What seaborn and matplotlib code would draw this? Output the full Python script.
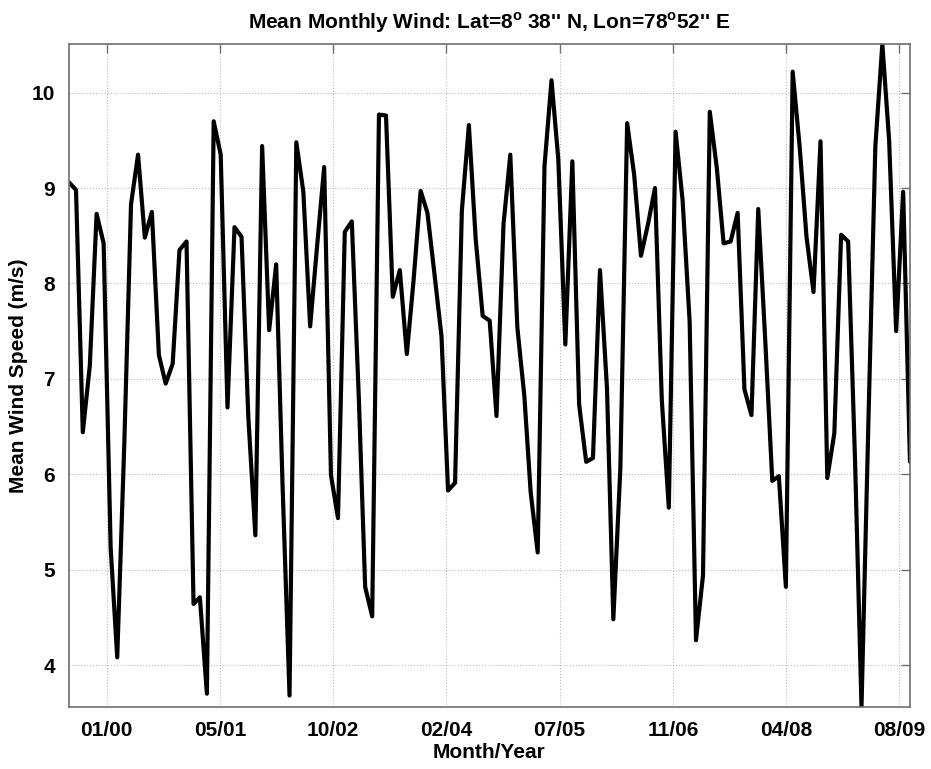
import pandas as pd
import matplotlib
matplotlib.use("Agg")
import matplotlib.pyplot as plt
import matplotlib.dates as mdates
import seaborn as sns

# monthly mean wind speed (m/s), Aug 1999 .. Oct 2009
months = pd.date_range("1999-08-01", periods=123, freq="MS")
wind = [
    9.06, 8.98, 6.44, 7.14, 8.73, 8.42, 5.23, 4.08, 6.30, 8.83,
    9.35, 8.48, 8.75, 7.25, 6.95, 7.16, 8.35, 8.44, 4.64, 4.71,
    3.70, 9.70, 9.35, 6.70, 8.59, 8.49, 6.60, 5.36, 9.44, 7.51,
    8.20, 5.90, 3.68, 9.48, 8.96, 7.55, 8.40, 9.22, 5.99, 5.54,
    8.54, 8.65,
    6.80, 4.82, 4.51, 9.77, 9.76, 7.86, 8.14, 7.26, 8.04, 8.97,
    8.74, 8.10, 7.45, 5.83, 5.91, 8.76, 9.66, 8.47, 7.66, 7.61,
    6.61, 8.62, 9.35, 7.54, 6.82, 5.81, 5.18, 9.23, 10.13, 9.30,
    7.36, 9.28, 6.73, 6.13, 6.17, 8.14, 6.90, 4.48, 6.06, 9.68,
    9.14, 8.29, 8.62, 9.00, 6.78, 5.65, 9.59, 8.87, 7.60, 4.26,
    4.94, 9.80, 9.21, 8.42, 8.44, 8.74, 6.89, 6.62, 8.78, 7.40,
    5.93, 5.98, 4.82, 10.22, 9.43, 8.49, 7.91, 9.49, 5.96, 6.43,
    8.51, 8.44, 6.10, 3.56, 6.60, 9.43, 10.51, 9.50, 7.50, 8.96,
    6.13,
]
tick_dates = pd.to_datetime(["2000-01-15", "2001-05-29", "2002-10-11", "2004-02-23",
                             "2005-07-07", "2006-11-19", "2008-04-02", "2009-08-15"])
y_ticks = [4, 5, 6, 7, 8, 9, 10]

df = pd.DataFrame({"month": months, "wind": wind})

sns.set_style("white")
plt.rcParams["font.family"] = ["Liberation Sans", "DejaVu Sans"]
plt.rcParams["font.weight"] = "bold"
plt.rcParams["text.color"] = "black"
plt.rcParams["axes.labelcolor"] = "black"
plt.rcParams["mathtext.fontset"] = "custom"
plt.rcParams["mathtext.rm"] = "Liberation Sans:bold"
plt.rcParams["mathtext.bf"] = "Liberation Sans:bold"

fig = plt.figure(figsize=(9.31, 7.69), dpi=100)
ax = fig.add_axes([0.0741, 0.0806, 0.9033, 0.8622])

sns.lineplot(data=df, x="month", y="wind", color="black", linewidth=3.0, ax=ax)

ax.set_xlim(df["month"].iloc[0], df["month"].iloc[-1])
ax.set_ylim(df["wind"].min(), df["wind"].max())
ax.set_xticks(tick_dates)
ax.xaxis.set_major_formatter(mdates.DateFormatter("%m/%y"))
ax.set_yticks(y_ticks)

ax.grid(True, linestyle=":", color="#bbbbbb", linewidth=0.8)
ax.tick_params(direction="in", length=6.3, width=1, color="#707070",
               labelcolor="black", top=True, right=True, labelsize=15, pad=10)
for lab in ax.get_xticklabels() + ax.get_yticklabels():
    lab.set_fontweight("bold")
for sp in ax.spines.values():
    sp.set_color("#707070")
    sp.set_linewidth(1.2)

ax.set_xlabel("Month/Year", fontsize=15, fontweight="bold", labelpad=2)
ax.set_ylabel("Mean Wind Speed (m/s)", fontsize=15, fontweight="bold", labelpad=3)
ax.set_title(r"Mean Monthly Wind: Lat=8$^{\mathbf{o}}$ 38'' N, Lon=78$^{\mathbf{o}}$52'' E",
             fontsize=15, fontweight="bold", pad=11)

fig.savefig("out.png", dpi=100)
